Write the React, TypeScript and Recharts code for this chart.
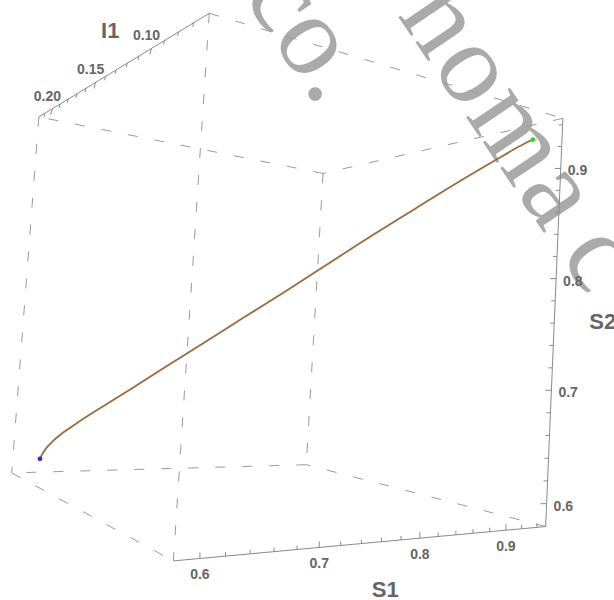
import React from 'react';
import { ComposedChart, Line, Scatter, XAxis, YAxis } from 'recharts';

// trajectory of the system, sampled in time
const S1 = [0.594, 0.5948, 0.5965, 0.600, 0.6055, 0.6135, 0.625, 0.640, 0.6586, 0.6814, 0.7073, 0.7363, 0.7673, 0.7984, 0.8284, 0.8563, 0.8801, 0.8998, 0.9143, 0.9246, 0.9319, 0.936];
const S2 = [0.600, 0.605, 0.611, 0.618, 0.626, 0.635, 0.646, 0.660, 0.677, 0.698, 0.722, 0.749, 0.777, 0.806, 0.834, 0.859, 0.880, 0.897, 0.909, 0.918, 0.924, 0.927];
const I1 = [0.200, 0.1985, 0.1965, 0.194, 0.191, 0.187, 0.183, 0.177, 0.170, 0.162, 0.152, 0.141, 0.130, 0.119, 0.108, 0.098, 0.090, 0.083, 0.078, 0.074, 0.071, 0.069];

// plot ranges of the box
const S1_RANGE: [number, number] = [0.58, 0.9516];
const S2_RANGE: [number, number] = [0.58, 0.946];
const I1_RANGE: [number, number] = [0.0603, 0.2185];

// tick labels
const S1_TICKS = [0.6, 0.7, 0.8, 0.9];
const S2_TICKS = [0.6, 0.7, 0.8, 0.9];
const I1_TICKS = [0.1, 0.15, 0.2];

const W = 614;
const H = 600;

// where the box corners land on screen: [S1, S2, I1] as 0/1 -> [x, y]
const FRAME: number[][] = [
  [0, 0, 0, 173, 561],
  [1, 0, 0, 546, 526],
  [0, 1, 0, 209, 13],
  [1, 1, 0, 563, 119],
  [0, 0, 1, 12, 473],
  [1, 0, 1, 306, 465],
  [0, 1, 1, 39, 117],
  [1, 1, 1, 323, 173],
];

function solve(M: number[][], v: number[]) {
  const n = v.length;
  const a = M.map((r, i) => [...r, v[i]]);
  for (let c = 0; c < n; c++) {
    let p = c;
    for (let r = c + 1; r < n; r++) if (Math.abs(a[r][c]) > Math.abs(a[p][c])) p = r;
    [a[c], a[p]] = [a[p], a[c]];
    for (let r = 0; r < n; r++) {
      if (r === c) continue;
      const f = a[r][c] / a[c][c];
      for (let k = c; k <= n; k++) a[r][k] -= f * a[c][k];
    }
  }
  return a.map((r, i) => r[n] / r[i]);
}

// least squares perspective camera (3x4, last entry fixed to 1)
function fitCamera() {
  const n = 11;
  const M = Array.from({ length: n }, () => Array(n).fill(0));
  const v = Array(n).fill(0);
  const add = (r: number[], b: number) => {
    for (let i = 0; i < n; i++) {
      for (let j = 0; j < n; j++) M[i][j] += r[i] * r[j];
      v[i] += r[i] * b;
    }
  };
  FRAME.forEach(([X, Y, Z, x, y]) => {
    add([X, Y, Z, 1, 0, 0, 0, 0, -x * X, -x * Y, -x * Z], x);
    add([0, 0, 0, 0, X, Y, Z, 1, -y * X, -y * Y, -y * Z], y);
  });
  return solve(M, v);
}
const CAM = fitCamera();

const norm = (val: number, [lo, hi]: [number, number]) => (val - lo) / (hi - lo);

function project(s1: number, s2: number, i1: number) {
  const X = norm(s1, S1_RANGE);
  const Y = norm(s2, S2_RANGE);
  const Z = norm(i1, I1_RANGE);
  const d = CAM[8] * X + CAM[9] * Y + CAM[10] * Z + 1;
  return {
    x: (CAM[0] * X + CAM[1] * Y + CAM[2] * Z + CAM[3]) / d,
    y: (CAM[4] * X + CAM[5] * Y + CAM[6] * Z + CAM[7]) / d,
  };
}

type Pt = { x: number; y: number | null };
const toPath = (segs: Pt[][]) => segs.flatMap(([p, q]) => [p, q, { x: q.x, y: null }]);

const [s1lo, s1hi] = S1_RANGE;
const [s2lo, s2hi] = S2_RANGE;
const [ilo, ihi] = I1_RANGE;
const c = (a: number, b: number, w: number) =>
  project(a ? s1hi : s1lo, b ? s2hi : s2lo, w ? ihi : ilo);

// box edges that are not axes
const dashedEdges = toPath([
  [c(0, 1, 0), c(1, 1, 0)],
  [c(1, 1, 0), c(1, 1, 1)],
  [c(1, 1, 1), c(0, 1, 1)],
  [c(0, 0, 1), c(0, 0, 0)],
  [c(1, 0, 0), c(1, 0, 1)],
  [c(1, 0, 1), c(0, 0, 1)],
  [c(0, 1, 1), c(0, 0, 1)],
  [c(0, 1, 0), c(0, 0, 0)],
  [c(1, 1, 1), c(1, 0, 1)],
]);

const axisEdges = toPath([
  [c(0, 1, 1), c(0, 1, 0)],
  [c(0, 0, 0), c(1, 0, 0)],
  [c(1, 0, 0), c(1, 1, 0)],
]);

const steps = (from: number, to: number, step: number) => {
  const out: number[] = [];
  for (let k = 0; from + k * step <= to + 1e-9; k++) out.push(+(from + k * step).toFixed(3));
  return out;
};
const isMajor = (t: number, list: number[]) => list.some((m) => Math.abs(m - t) < 1e-6);

const tickSegs: Pt[][] = [];
steps(0.6, 0.94, 0.02).forEach((t) => {
  const p = project(t, s2lo, ilo);
  const len = isMajor(t, S1_TICKS) ? 6 : 4;
  tickSegs.push([p, { x: p.x, y: p.y - len }]);
});
steps(0.6, 0.94, 0.02).forEach((t) => {
  const p = project(s1hi, t, ilo);
  const len = isMajor(t, S2_TICKS) ? 6 : 4;
  tickSegs.push([p, { x: p.x - len, y: p.y }]);
});
steps(0.07, 0.21, 0.01).forEach((t) => {
  const p = project(s1lo, s2hi, t);
  const len = isMajor(t, I1_TICKS) ? 6 : 4;
  tickSegs.push([p, { x: p.x - len * 0.3, y: p.y + len }]);
});
const ticks = toPath(tickSegs);

const tickLabels = [
  ...S1_TICKS.map((t) => {
    const p = project(t, s2lo, ilo);
    return { x: p.x, y: p.y + 16, label: t.toFixed(1), anchor: 'middle', size: 14 };
  }),
  ...S2_TICKS.map((t) => {
    const p = project(s1hi, t, ilo);
    return { x: p.x + 7, y: p.y + 2, label: t.toFixed(1), anchor: 'start', size: 14 };
  }),
  ...I1_TICKS.map((t) => {
    const p = project(s1lo, s2hi, t);
    return { x: p.x - 5, y: p.y - 13, label: t.toFixed(2), anchor: 'middle', size: 14 };
  }),
];

const titleAt = (p: { x: number; y: number }, dx: number, dy: number, label: string, anchor: string) => ({
  x: p.x + dx, y: p.y + dy, label, anchor, size: 22,
});
const axisTitles = [
  titleAt(project(s1lo, s2hi, (ilo + ihi) / 2), 4, -45, 'I1', 'middle'),
  titleAt(project((s1lo + s1hi) / 2, s2lo, ilo), -2, 48, 'S1', 'middle'),
  titleAt(project(s1hi, (s2lo + s2hi) / 2, ilo), 35, 2, 'S2', 'start'),
];

const curve = S1.map((s, i) => project(s, S2[i], I1[i]));
const endpoints = [
  { ...curve[0], fill: '#3030c8' },
  { ...curve[curve.length - 1], fill: '#22dd22' },
];

const TextMark = (props: any) => (
  <text
    x={props.cx}
    y={props.cy}
    textAnchor={props.payload.anchor}
    dominantBaseline="central"
    fontFamily="'Liberation Sans', Arial, sans-serif"
    fontWeight="bold"
    fontSize={props.payload.size}
    fill="#666666"
  >
    {props.payload.label}
  </text>
);

const DotMark = (props: any) => <circle cx={props.cx} cy={props.cy} r={2.4} fill={props.payload.fill} />;

const Watermark = () => (
  <svg width={W} height={H} style={{ position: 'absolute', left: 0, top: 0 }}>
    <g fontFamily="'Liberation Serif', 'Times New Roman', serif" fontSize={115} fill="#aaaaaa">
      <text x={242} y={-5} transform="rotate(56 242 -5)">co.</text>
      <text x={397} y={15} transform="rotate(56 397 15)" letterSpacing={3}>
        noma<tspan dx={22}>c</tspan>
      </text>
    </g>
  </svg>
);

const lineProps = {
  dataKey: 'y',
  dot: false,
  activeDot: false,
  connectNulls: false,
  isAnimationActive: false,
};

export default function App() {
  return (
    <div style={{ position: 'absolute', left: 0, top: 0, width: W, height: H, background: '#ffffff' }}>
      <Watermark />
      <div style={{ position: 'absolute', left: 0, top: 0 }}>
        <ComposedChart width={W} height={H} margin={{ top: 0, right: 0, bottom: 0, left: 0 }}>
          <XAxis type="number" dataKey="x" domain={[0, W]} allowDataOverflow hide />
          <YAxis type="number" dataKey="y" domain={[0, H]} allowDataOverflow reversed hide />
          <Line {...lineProps} data={dashedEdges} stroke="#9a9a9a" strokeWidth={1} strokeDasharray="10 17" />
          <Line {...lineProps} data={axisEdges} stroke="#8a8a8a" strokeWidth={1} />
          <Line {...lineProps} data={ticks} stroke="#8a8a8a" strokeWidth={1} />
          <Line {...lineProps} data={curve} type="monotone" stroke="#9a6a3e" strokeWidth={1.8} />
          <Scatter data={endpoints} shape={DotMark} isAnimationActive={false} />
          <Scatter data={tickLabels} shape={TextMark} isAnimationActive={false} />
          <Scatter data={axisTitles} shape={TextMark} isAnimationActive={false} />
        </ComposedChart>
      </div>
    </div>
  );
}
